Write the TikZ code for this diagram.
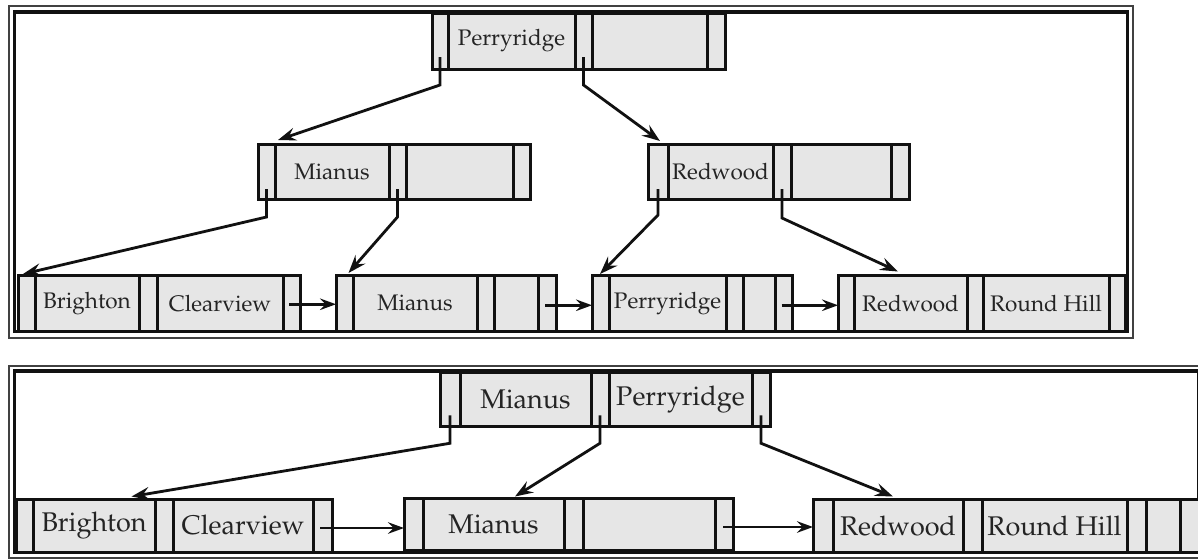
\documentclass[tikz,border=0pt]{standalone}
\usepackage[T1]{fontenc}
\usepackage{mathpazo}
\usetikzlibrary{arrows.meta,calc}

\definecolor{cellfill}{HTML}{E6E6E6}
\definecolor{ink}{HTML}{111111}

\tikzset{
  cellbox/.style={draw=ink, fill=cellfill, line width=3pt, inner sep=0pt,
    outer sep=0pt, text=ink!92, rectangle},
  topfont/.style={font=\fontsize{22.5}{26}\selectfont},
  botfont/.style={font=\fontsize{27}{31}\selectfont},
  ptr/.style={draw=ink, line width=2.8pt, line join=miter,
    -{Stealth[length=18pt,width=13pt,inset=6.5pt]}},
  nextptr/.style={draw=ink, line width=2.5pt,
    -{Stealth[length=16pt,width=11.5pt,inset=5.5pt]}},
  frameout/.style={draw=ink!80, line width=2pt},
  framein/.style={draw=ink, line width=3.8pt},
}

% one cell of a B+-tree node: name, left, top, right, bottom, text
\newcommand{\bcell}[7][]{%
  \node[cellbox, #1, anchor=north west, minimum width={#5-#3},
        minimum height={#6-#4}] (#2) at (#3,#4) {#7};}

\begin{document}
\begin{tikzpicture}[x=1pt, y=-1pt]
\useasboundingbox (0,0) rectangle (1198,558);
\clip (0,0) rectangle (1198,558);
\fill[white] (0,0) rectangle (1198,558);

% ---------------- upper tree ----------------
\draw[frameout] (8.5,5.5) rectangle (1133,337.5);
\draw[framein] (14.5,12) rectangle (1127.5,331.5);

\begin{scope}[every node/.append style={topfont}]
% root
\bcell{R1}{432}{13}{448}{69}{}
\bcell{R2}{448}{13}{575}{69}{Perryridge}
\bcell{R3}{575}{13}{592}{69}{}
\bcell{R4}{592}{13}{707}{69}{}
\bcell{R5}{707}{13}{725}{69}{}

% internal node Mianus
\bcell{M1}{258}{144}{275}{199}{}
\bcell{M2}{275}{144}{389}{199}{Mianus}
\bcell{M3}{389}{144}{406}{199}{}
\bcell{M4}{406}{144}{513}{199}{}
\bcell{M5}{513}{144}{530}{199}{}

% internal node Redwood
\bcell{W1}{648}{144}{668}{199}{}
\bcell{W2}{668}{144}{773}{199}{Redwood}
\bcell{W3}{773}{144}{791}{199}{}
\bcell{W4}{791}{144}{891}{199}{}
\bcell{W5}{891}{144}{909}{199}{}

% leaves
\bcell{A1}{18}{275.5}{35}{331}{}
\bcell{A2}{35}{275.5}{139}{331}{Brighton}
\bcell{A3}{139}{275.5}{157}{331}{}
\bcell{A4}{157}{275.5}{283}{331}{Clearview}
\bcell{A5}{283}{275.5}{300}{331}{}

\bcell{B1}{336}{275.5}{353}{331}{}
\bcell{B2}{353}{275.5}{477}{331}{Mianus}
\bcell{B3}{477}{275.5}{494}{331}{}
\bcell{B4}{494}{275.5}{538}{331}{}
\bcell{B5}{538}{275.5}{556}{331}{}

\bcell{C1}{592}{275.5}{609}{331}{}
\bcell{C2}{609}{275.5}{726}{331}{Perryridge}
\bcell{C3}{726}{275.5}{743}{331}{}
\bcell{C4}{743}{275.5}{775}{331}{}
\bcell{C5}{775}{275.5}{792}{331}{}

\bcell{D1}{838}{275.5}{854}{331}{}
\bcell{D2}{854}{275.5}{967}{331}{Redwood}
\bcell{D3}{967}{275.5}{983}{331}{}
\bcell{D4}{983}{275.5}{1109}{331}{Round Hill}
\bcell{D5}{1109}{275.5}{1125}{331}{}
\end{scope}

% child pointers of the upper tree
\draw[ptr] ($(R1.center)+(0,16)$) -- ++(0,28) -- ($(M1.north east)+(3,-4)$);
\draw[ptr] ($(R3.center)+(0,16)$) -- ++(0,28) -- ($(W1.north)+(2,-3)$);
\draw[ptr] ($(M1.center)+(0,17.5)$) -- ++(0,28) -- ($(A1.north)+(-3.5,-1.5)$);
\draw[ptr] ($(M3.center)+(0,17.5)$) -- ++(0,28) -- ($(B1.north east)+(-4.5,-2.5)$);
\draw[ptr] ($(W1.center)+(0,17.5)$) -- ++(0,26) -- ($(C1.north)+(-0.5,-1.5)$);
\draw[ptr] ($(W3.center)+(0,17.5)$) -- ++(0,29) -- ($(D2.north)+(-12.5,-4)$);

% sibling pointers of the upper leaves
\draw[nextptr] ($(A5.center)+(-2.5,1)$) -- (B1.west |- {$(A5.center)+(0,1)$});
\draw[nextptr] ($(B5.center)+(-2,2)$) -- (C1.west |- {$(B5.center)+(0,2)$});
\draw[nextptr] ($(C5.center)+(-2,2)$) -- (D1.west |- {$(C5.center)+(0,2)$});

% ---------------- lower tree ----------------
\draw[frameout] (9,366) rectangle (1215,557.6);
\draw[framein] (14.5,371) rectangle (1198.6,552.5);

\begin{scope}[every node/.append style={botfont}]
% root
\bcell{S1}{440}{372.5}{460}{426}{}
\bcell{S2}{460}{372.5}{591}{426}{Mianus}
\bcell{S3}{591}{372.5}{609}{426}{}
\bcell{S4}{609}{372.5}{752}{426}{Perryridge}
\bcell{S5}{752}{372.5}{770}{426}{}

% leaves
\bcell{E1}{16.5}{499}{33}{552}{}
\bcell{E2}{33}{499}{155}{552}{Brighton}
\bcell{E3}{155}{499}{173}{552}{}
\bcell{E4}{173}{499}{313}{552}{Clearview}
\bcell{E5}{313}{499}{332}{552}{}

\bcell{F1}{404}{498}{423}{550}{}
\bcell{F2}{423}{498}{564}{550}{Mianus}
\bcell{F3}{564}{498}{583}{550}{}
\bcell{F4}{583}{498}{715}{550}{}
\bcell{F5}{715}{498}{733}{550}{}

\bcell{G1}{813}{499}{833}{552.5}{}
\bcell{G2}{833}{499}{963}{552.5}{Redwood}
\bcell{G3}{963}{499}{982}{552.5}{}
\bcell{G4}{982}{499}{1127}{552.5}{Round Hill}
\bcell{G5}{1127}{499}{1146}{552.5}{}
\bcell{G6}{1146}{499}{1180}{552.5}{}
\bcell{G7}{1180}{499}{1214}{552.5}{}
\end{scope}

% child pointers of the lower tree
\draw[ptr] ($(S1.center)+(0,16)$) -- ++(0,28) -- ($(E2.north east)+(-23.5,-2.5)$);
\draw[ptr] ($(S3.center)+(0,16)$) -- ++(0,28) -- ($(F2.north)+(21.5,-1.5)$);
\draw[ptr] ($(S5.center)+(0,16)$) -- ++(0,28) -- ($(G2.north)+(-5,-2.5)$);

% sibling pointers of the lower leaves
\draw[nextptr] ($(E5.center)+(-2.5,2.5)$) -- (F1.west |- {$(E5.center)+(0,2.5)$});
\draw[nextptr] ($(F5.center)+(-1,3)$) -- (G1.west |- {$(F5.center)+(0,3)$});

\end{tikzpicture}
\end{document}
